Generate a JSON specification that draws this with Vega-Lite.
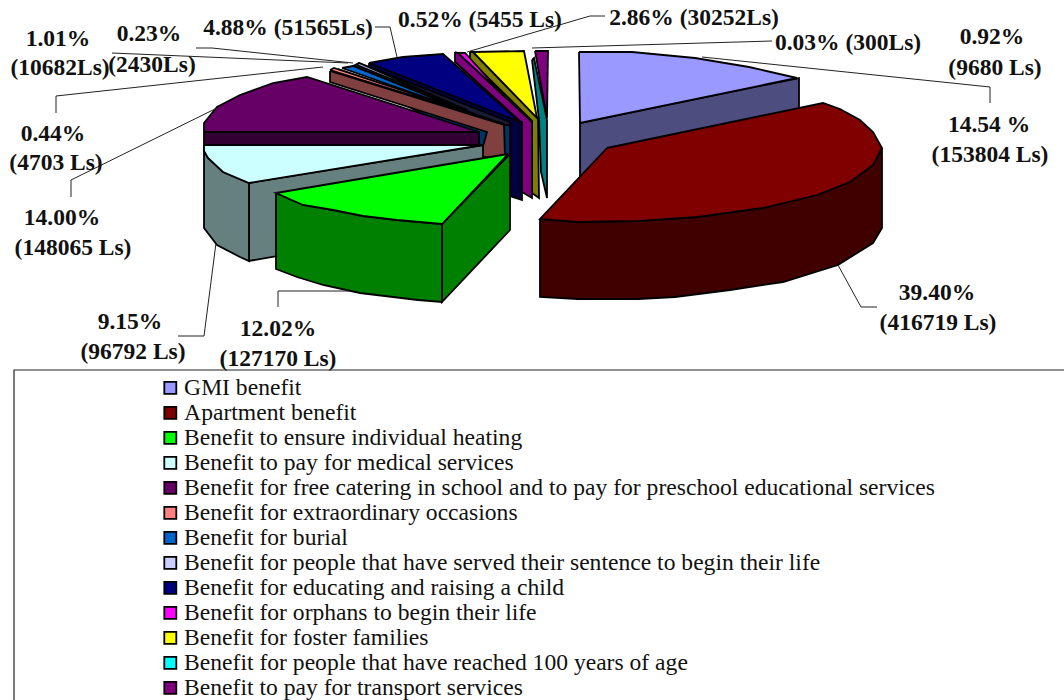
{"$schema":"https://vega.github.io/schema/vega-lite/v6.json","width":1064,"height":700,"padding":0,"autosize":"none","background":"white","view":{"stroke":null},
"layer":[
{"data":{"values":[{"x0":14,"x1":1075,"y0":370,"y1":710}]},"mark":{"type":"rect","fill":"white","stroke":"#222","strokeWidth":1.2},"encoding":{"x":{"field":"x0","type":"quantitative","scale":{"domain":[0,1064],"nice":false,"zero":false},"axis":null},"x2":{"field":"x1"},"y":{"field":"y0","type":"quantitative","scale":{"domain":[700,0],"nice":false,"zero":false},"axis":null},"y2":{"field":"y1"}}},
{"data":{"values":[
{"f":"GMI benefit side","p":1,"i":1,"x":580,"y":123},{"f":"GMI benefit side","p":1,"i":2,"x":799,"y":78},{"f":"GMI benefit side","p":1,"i":3,"x":799,"y":150},{"f":"GMI benefit side","p":1,"i":4,"x":580,"y":190},{"f":"GMI benefit side","p":1,"i":5,"x":580,"y":123},
{"f":"GMI benefit","p":2,"i":1,"x":579,"y":52},{"f":"GMI benefit","p":2,"i":2,"x":632,"y":52},{"f":"GMI benefit","p":2,"i":3,"x":695,"y":58},{"f":"GMI benefit","p":2,"i":4,"x":749,"y":67},{"f":"GMI benefit","p":2,"i":5,"x":797,"y":78},{"f":"GMI benefit","p":2,"i":6,"x":580,"y":123},{"f":"GMI benefit","p":2,"i":7,"x":579,"y":52},
{"f":"Benefit to pay for transport services","p":3,"i":1,"x":535,"y":51},{"f":"Benefit to pay for transport services","p":3,"i":2,"x":548,"y":51},{"f":"Benefit to pay for transport services","p":3,"i":3,"x":547,"y":118},{"f":"Benefit to pay for transport services","p":3,"i":4,"x":535,"y":51},
{"f":"Benefit for people that have reached 100 years of age side","p":4,"i":1,"x":532,"y":60},{"f":"Benefit for people that have reached 100 years of age side","p":4,"i":2,"x":534,"y":58},{"f":"Benefit for people that have reached 100 years of age side","p":4,"i":3,"x":547,"y":120},{"f":"Benefit for people that have reached 100 years of age side","p":4,"i":4,"x":547,"y":198},{"f":"Benefit for people that have reached 100 years of age side","p":4,"i":5,"x":541,"y":172},{"f":"Benefit for people that have reached 100 years of age side","p":4,"i":6,"x":539,"y":120},{"f":"Benefit for people that have reached 100 years of age side","p":4,"i":7,"x":532,"y":60},
{"f":"Benefit for foster families side","p":5,"i":1,"x":470,"y":52},{"f":"Benefit for foster families side","p":5,"i":2,"x":473,"y":52},{"f":"Benefit for foster families side","p":5,"i":3,"x":538,"y":118},{"f":"Benefit for foster families side","p":5,"i":4,"x":539,"y":198},{"f":"Benefit for foster families side","p":5,"i":5,"x":532,"y":193},{"f":"Benefit for foster families side","p":5,"i":6,"x":532,"y":121},{"f":"Benefit for foster families side","p":5,"i":7,"x":470,"y":60},{"f":"Benefit for foster families side","p":5,"i":8,"x":470,"y":52},
{"f":"Benefit for foster families","p":6,"i":1,"x":473,"y":52},{"f":"Benefit for foster families","p":6,"i":2,"x":524,"y":51},{"f":"Benefit for foster families","p":6,"i":3,"x":537,"y":118},{"f":"Benefit for foster families","p":6,"i":4,"x":473,"y":52},
{"f":"Benefit for orphans to begin their life side","p":7,"i":1,"x":455,"y":52},{"f":"Benefit for orphans to begin their life side","p":7,"i":2,"x":458,"y":53},{"f":"Benefit for orphans to begin their life side","p":7,"i":3,"x":532,"y":122},{"f":"Benefit for orphans to begin their life side","p":7,"i":4,"x":532,"y":198},{"f":"Benefit for orphans to begin their life side","p":7,"i":5,"x":522,"y":192},{"f":"Benefit for orphans to begin their life side","p":7,"i":6,"x":522,"y":123},{"f":"Benefit for orphans to begin their life side","p":7,"i":7,"x":455,"y":62},{"f":"Benefit for orphans to begin their life side","p":7,"i":8,"x":455,"y":52},
{"f":"Benefit for orphans to begin their life","p":8,"i":1,"x":458,"y":53},{"f":"Benefit for orphans to begin their life","p":8,"i":2,"x":465,"y":53},{"f":"Benefit for orphans to begin their life","p":8,"i":3,"x":505,"y":97},{"f":"Benefit for orphans to begin their life","p":8,"i":4,"x":458,"y":53},
{"f":"Benefit for educating and raising a child side","p":9,"i":1,"x":369,"y":63},{"f":"Benefit for educating and raising a child side","p":9,"i":2,"x":522,"y":122},{"f":"Benefit for educating and raising a child side","p":9,"i":3,"x":522,"y":200},{"f":"Benefit for educating and raising a child side","p":9,"i":4,"x":510,"y":196},{"f":"Benefit for educating and raising a child side","p":9,"i":5,"x":510,"y":125},{"f":"Benefit for educating and raising a child side","p":9,"i":6,"x":369,"y":70},{"f":"Benefit for educating and raising a child side","p":9,"i":7,"x":369,"y":63},
{"f":"Benefit for educating and raising a child","p":10,"i":1,"x":369,"y":63},{"f":"Benefit for educating and raising a child","p":10,"i":2,"x":403,"y":57},{"f":"Benefit for educating and raising a child","p":10,"i":3,"x":443,"y":54},{"f":"Benefit for educating and raising a child","p":10,"i":4,"x":520,"y":122},{"f":"Benefit for educating and raising a child","p":10,"i":5,"x":369,"y":63},
{"f":"Benefit for people that have served their sentence side","p":26,"i":1,"x":353,"y":66},{"f":"Benefit for people that have served their sentence side","p":26,"i":2,"x":359,"y":63},{"f":"Benefit for people that have served their sentence side","p":26,"i":3,"x":510,"y":122},{"f":"Benefit for people that have served their sentence side","p":26,"i":4,"x":510,"y":128},{"f":"Benefit for people that have served their sentence side","p":26,"i":5,"x":353,"y":66},
{"f":"Benefit for people that have served their sentence to begin their life","p":11,"i":1,"x":357,"y":65},{"f":"Benefit for people that have served their sentence to begin their life","p":11,"i":2,"x":359,"y":63},{"f":"Benefit for people that have served their sentence to begin their life","p":11,"i":3,"x":467,"y":110},{"f":"Benefit for people that have served their sentence to begin their life","p":11,"i":4,"x":357,"y":65},
{"f":"Benefit for burial side","p":12,"i":1,"x":338,"y":69},{"f":"Benefit for burial side","p":12,"i":2,"x":505,"y":125},{"f":"Benefit for burial side","p":12,"i":3,"x":510,"y":125},{"f":"Benefit for burial side","p":12,"i":4,"x":510,"y":158},{"f":"Benefit for burial side","p":12,"i":5,"x":505,"y":158},{"f":"Benefit for burial side","p":12,"i":6,"x":338,"y":69},
{"f":"Benefit for burial","p":13,"i":1,"x":342,"y":68},{"f":"Benefit for burial","p":13,"i":2,"x":353,"y":66},{"f":"Benefit for burial","p":13,"i":3,"x":467,"y":112},{"f":"Benefit for burial","p":13,"i":4,"x":342,"y":68},
{"f":"Benefit for extraordinary occasions side","p":14,"i":1,"x":330,"y":71},{"f":"Benefit for extraordinary occasions side","p":14,"i":2,"x":504,"y":125},{"f":"Benefit for extraordinary occasions side","p":14,"i":3,"x":505,"y":157},{"f":"Benefit for extraordinary occasions side","p":14,"i":4,"x":480,"y":157},{"f":"Benefit for extraordinary occasions side","p":14,"i":5,"x":487,"y":132},{"f":"Benefit for extraordinary occasions side","p":14,"i":6,"x":330,"y":82},{"f":"Benefit for extraordinary occasions side","p":14,"i":7,"x":330,"y":71},
{"f":"Benefit for extraordinary occasions","p":15,"i":1,"x":330,"y":70},{"f":"Benefit for extraordinary occasions","p":15,"i":2,"x":334,"y":68},{"f":"Benefit for extraordinary occasions","p":15,"i":3,"x":504,"y":124},{"f":"Benefit for extraordinary occasions","p":15,"i":4,"x":330,"y":70},
{"f":"Benefit for free catering side","p":16,"i":1,"x":204,"y":132},{"f":"Benefit for free catering side","p":16,"i":2,"x":479,"y":132},{"f":"Benefit for free catering side","p":16,"i":3,"x":479,"y":150},{"f":"Benefit for free catering side","p":16,"i":4,"x":204,"y":150},{"f":"Benefit for free catering side","p":16,"i":5,"x":204,"y":132},
{"f":"Benefit for free catering in school and to pay for preschool educational services","p":17,"i":1,"x":204,"y":132},{"f":"Benefit for free catering in school and to pay for preschool educational services","p":17,"i":2,"x":204,"y":123},{"f":"Benefit for free catering in school and to pay for preschool educational services","p":17,"i":3,"x":217,"y":107},{"f":"Benefit for free catering in school and to pay for preschool educational services","p":17,"i":4,"x":240,"y":95},{"f":"Benefit for free catering in school and to pay for preschool educational services","p":17,"i":5,"x":273,"y":83},{"f":"Benefit for free catering in school and to pay for preschool educational services","p":17,"i":6,"x":307,"y":77},{"f":"Benefit for free catering in school and to pay for preschool educational services","p":17,"i":7,"x":479,"y":132},{"f":"Benefit for free catering in school and to pay for preschool educational services","p":17,"i":8,"x":204,"y":132},
{"f":"Benefit to pay for medical services side","p":18,"i":1,"x":249,"y":183},{"f":"Benefit to pay for medical services side","p":18,"i":2,"x":483,"y":145},{"f":"Benefit to pay for medical services side","p":18,"i":3,"x":483,"y":220},{"f":"Benefit to pay for medical services side","p":18,"i":4,"x":249,"y":261},{"f":"Benefit to pay for medical services side","p":18,"i":5,"x":249,"y":183},
{"f":"Benefit to pay for medical services side","p":19,"i":1,"x":204,"y":151},{"f":"Benefit to pay for medical services side","p":19,"i":2,"x":208,"y":158},{"f":"Benefit to pay for medical services side","p":19,"i":3,"x":223,"y":172},{"f":"Benefit to pay for medical services side","p":19,"i":4,"x":249,"y":183},{"f":"Benefit to pay for medical services side","p":19,"i":5,"x":249,"y":261},{"f":"Benefit to pay for medical services side","p":19,"i":6,"x":240,"y":257},{"f":"Benefit to pay for medical services side","p":19,"i":7,"x":217,"y":245},{"f":"Benefit to pay for medical services side","p":19,"i":8,"x":204,"y":228},{"f":"Benefit to pay for medical services side","p":19,"i":9,"x":204,"y":151},
{"f":"Benefit to pay for medical services","p":20,"i":1,"x":204,"y":145},{"f":"Benefit to pay for medical services","p":20,"i":2,"x":483,"y":145},{"f":"Benefit to pay for medical services","p":20,"i":3,"x":249,"y":183},{"f":"Benefit to pay for medical services","p":20,"i":4,"x":223,"y":172},{"f":"Benefit to pay for medical services","p":20,"i":5,"x":208,"y":158},{"f":"Benefit to pay for medical services","p":20,"i":6,"x":204,"y":151},{"f":"Benefit to pay for medical services","p":20,"i":7,"x":204,"y":145},
{"f":"Benefit to ensure individual heating side","p":21,"i":1,"x":442,"y":224},{"f":"Benefit to ensure individual heating side","p":21,"i":2,"x":510,"y":154},{"f":"Benefit to ensure individual heating side","p":21,"i":3,"x":510,"y":230},{"f":"Benefit to ensure individual heating side","p":21,"i":4,"x":442,"y":302},{"f":"Benefit to ensure individual heating side","p":21,"i":5,"x":442,"y":224},
{"f":"Benefit to ensure individual heating side","p":22,"i":1,"x":276,"y":193},{"f":"Benefit to ensure individual heating side","p":22,"i":2,"x":303,"y":205},{"f":"Benefit to ensure individual heating side","p":22,"i":3,"x":333,"y":210},{"f":"Benefit to ensure individual heating side","p":22,"i":4,"x":363,"y":216},{"f":"Benefit to ensure individual heating side","p":22,"i":5,"x":397,"y":220},{"f":"Benefit to ensure individual heating side","p":22,"i":6,"x":442,"y":224},{"f":"Benefit to ensure individual heating side","p":22,"i":7,"x":442,"y":302},{"f":"Benefit to ensure individual heating side","p":22,"i":8,"x":418,"y":300},{"f":"Benefit to ensure individual heating side","p":22,"i":9,"x":360,"y":293},{"f":"Benefit to ensure individual heating side","p":22,"i":10,"x":323,"y":285},{"f":"Benefit to ensure individual heating side","p":22,"i":11,"x":297,"y":277},{"f":"Benefit to ensure individual heating side","p":22,"i":12,"x":276,"y":269},{"f":"Benefit to ensure individual heating side","p":22,"i":13,"x":276,"y":193},
{"f":"Benefit to ensure individual heating","p":23,"i":1,"x":508,"y":154},{"f":"Benefit to ensure individual heating","p":23,"i":2,"x":276,"y":193},{"f":"Benefit to ensure individual heating","p":23,"i":3,"x":303,"y":205},{"f":"Benefit to ensure individual heating","p":23,"i":4,"x":333,"y":210},{"f":"Benefit to ensure individual heating","p":23,"i":5,"x":363,"y":216},{"f":"Benefit to ensure individual heating","p":23,"i":6,"x":397,"y":220},{"f":"Benefit to ensure individual heating","p":23,"i":7,"x":442,"y":224},{"f":"Benefit to ensure individual heating","p":23,"i":8,"x":508,"y":154},
{"f":"Apartment benefit side","p":24,"i":1,"x":540,"y":219},{"f":"Apartment benefit side","p":24,"i":2,"x":578,"y":222},{"f":"Apartment benefit side","p":24,"i":3,"x":638,"y":221},{"f":"Apartment benefit side","p":24,"i":4,"x":697,"y":217},{"f":"Apartment benefit side","p":24,"i":5,"x":763,"y":208},{"f":"Apartment benefit side","p":24,"i":6,"x":817,"y":195},{"f":"Apartment benefit side","p":24,"i":7,"x":850,"y":182},{"f":"Apartment benefit side","p":24,"i":8,"x":873,"y":165},{"f":"Apartment benefit side","p":24,"i":9,"x":882,"y":148},{"f":"Apartment benefit side","p":24,"i":10,"x":882,"y":228},{"f":"Apartment benefit side","p":24,"i":11,"x":873,"y":243},{"f":"Apartment benefit side","p":24,"i":12,"x":838,"y":265},{"f":"Apartment benefit side","p":24,"i":13,"x":783,"y":282},{"f":"Apartment benefit side","p":24,"i":14,"x":730,"y":290},{"f":"Apartment benefit side","p":24,"i":15,"x":675,"y":297},{"f":"Apartment benefit side","p":24,"i":16,"x":638,"y":299},{"f":"Apartment benefit side","p":24,"i":17,"x":578,"y":299},{"f":"Apartment benefit side","p":24,"i":18,"x":540,"y":297},{"f":"Apartment benefit side","p":24,"i":19,"x":540,"y":219},
{"f":"Apartment benefit","p":25,"i":1,"x":607,"y":148},{"f":"Apartment benefit","p":25,"i":2,"x":823,"y":103},{"f":"Apartment benefit","p":25,"i":3,"x":840,"y":109},{"f":"Apartment benefit","p":25,"i":4,"x":860,"y":120},{"f":"Apartment benefit","p":25,"i":5,"x":873,"y":132},{"f":"Apartment benefit","p":25,"i":6,"x":882,"y":148},{"f":"Apartment benefit","p":25,"i":7,"x":873,"y":165},{"f":"Apartment benefit","p":25,"i":8,"x":850,"y":182},{"f":"Apartment benefit","p":25,"i":9,"x":817,"y":195},{"f":"Apartment benefit","p":25,"i":10,"x":763,"y":208},{"f":"Apartment benefit","p":25,"i":11,"x":697,"y":217},{"f":"Apartment benefit","p":25,"i":12,"x":638,"y":221},{"f":"Apartment benefit","p":25,"i":13,"x":578,"y":222},{"f":"Apartment benefit","p":25,"i":14,"x":540,"y":219},{"f":"Apartment benefit","p":25,"i":15,"x":607,"y":148}
]},
"mark":{"type":"line","stroke":"black","strokeWidth":1.8,"strokeJoin":"miter"},
"encoding":{"x":{"field":"x","type":"quantitative"},"y":{"field":"y","type":"quantitative"},"order":{"field":"i","type":"quantitative"},"detail":{"field":"p","type":"nominal"},
"fill":{"field":"f","type":"nominal","sort":null,
"scale":{"domain":["GMI benefit","Apartment benefit","Benefit to ensure individual heating","Benefit to pay for medical services","Benefit for free catering in school and to pay for preschool educational services","Benefit for extraordinary occasions","Benefit for burial","Benefit for people that have served their sentence to begin their life","Benefit for educating and raising a child","Benefit for orphans to begin their life","Benefit for foster families","Benefit for people that have reached 100 years of age","Benefit to pay for transport services","GMI benefit side","Apartment benefit side","Benefit to ensure individual heating side","Benefit to pay for medical services side","Benefit for free catering side","Benefit for extraordinary occasions side","Benefit for burial side","Benefit for educating and raising a child side","Benefit for orphans to begin their life side","Benefit for foster families side","Benefit for people that have reached 100 years of age side","Benefit for people that have served their sentence side"],
"range":["#9999ff","#800000","#00ff00","#ccffff","#660066","#ff8080","#0066cc","#ccccff","#000080","#ff00ff","#ffff00","#00ffff","#800080","#4d4d80","#400000","#008000","#668080","#330033","#804040","#003366","#000040","#800080","#808000","#008080","#1a1a33"]},
"legend":{"title":null,"orient":"none","legendX":158.5,"legendY":376,"values":["GMI benefit","Apartment benefit","Benefit to ensure individual heating","Benefit to pay for medical services","Benefit for free catering in school and to pay for preschool educational services","Benefit for extraordinary occasions","Benefit for burial","Benefit for people that have served their sentence to begin their life","Benefit for educating and raising a child","Benefit for orphans to begin their life","Benefit for foster families","Benefit for people that have reached 100 years of age","Benefit to pay for transport services"],"symbolType":"square","symbolSize":144,"symbolStrokeColor":"black","symbolStrokeWidth":1.8,"labelFont":"Liberation Serif","labelFontSize":23.6,"labelColor":"#111","labelLimit":1000,"rowPadding":0,"labelOffset":2,"padding":0}}}},
{"data":{"values":[
{"l":1,"i":1,"x":702,"y":57},{"l":1,"i":2,"x":990,"y":87},{"l":1,"i":3,"x":990,"y":103},
{"l":2,"i":1,"x":838,"y":265},{"l":2,"i":2,"x":861,"y":307},{"l":2,"i":3,"x":877,"y":307},
{"l":3,"i":1,"x":349,"y":291},{"l":3,"i":2,"x":278,"y":291},{"l":3,"i":3,"x":278,"y":307},
{"l":4,"i":1,"x":216,"y":243},{"l":4,"i":2,"x":204,"y":336},{"l":4,"i":3,"x":178,"y":336},
{"l":5,"i":1,"x":217,"y":108},{"l":5,"i":2,"x":71,"y":180},{"l":5,"i":3,"x":71,"y":197},
{"l":6,"i":1,"x":323,"y":67},{"l":6,"i":2,"x":56,"y":96},{"l":6,"i":3,"x":56,"y":113},
{"l":7,"i":1,"x":348,"y":63},{"l":7,"i":2,"x":112,"y":53},
{"l":8,"i":1,"x":353,"y":63},{"l":8,"i":2,"x":212,"y":48},{"l":8,"i":3,"x":196,"y":48},
{"l":9,"i":1,"x":375,"y":27},{"l":9,"i":2,"x":390,"y":27},{"l":9,"i":3,"x":397,"y":57},
{"l":10,"i":1,"x":467,"y":52},{"l":10,"i":2,"x":590,"y":16},{"l":10,"i":3,"x":605,"y":16},
{"l":11,"i":1,"x":532,"y":48},{"l":11,"i":2,"x":772,"y":41}
]},"mark":{"type":"line","stroke":"#222","strokeWidth":1},"encoding":{"x":{"field":"x","type":"quantitative"},"y":{"field":"y","type":"quantitative"},"order":{"field":"i","type":"quantitative"},"detail":{"field":"l","type":"nominal"}}},
{"data":{"values":[
{"t":"1.01%","x":58,"y":39},{"t":"(10682Ls)","x":60,"y":68},{"t":"0.23%","x":149,"y":34},{"t":"(2430Ls)","x":152,"y":65},{"t":"4.88% (51565Ls)","x":288,"y":28},{"t":"0.52% (5455 Ls)","x":480,"y":20},{"t":"2.86% (30252Ls)","x":694,"y":18},{"t":"0.03% (300Ls)","x":848,"y":43},{"t":"0.92%","x":992,"y":37},{"t":"(9680 Ls)","x":995,"y":68},{"t":"14.54 %","x":989,"y":125},{"t":"(153804 Ls)","x":990,"y":155},{"t":"39.40%","x":937,"y":293},{"t":"(416719 Ls)","x":938,"y":323},{"t":"12.02%","x":278,"y":329},{"t":"(127170 Ls)","x":278,"y":359},{"t":"9.15%","x":130,"y":322},{"t":"(96792 Ls)","x":133,"y":352},{"t":"14.00%","x":62,"y":218},{"t":"(148065 Ls)","x":73,"y":248},{"t":"0.44%","x":53,"y":134},{"t":"(4703 Ls)","x":56,"y":163}
]},"mark":{"type":"text","font":"Liberation Serif","fontWeight":"bold","fontSize":23.5,"color":"#111","align":"center","baseline":"middle"},"encoding":{"x":{"field":"x","type":"quantitative"},"y":{"field":"y","type":"quantitative"},"text":{"field":"t","type":"nominal"}}}
]}
